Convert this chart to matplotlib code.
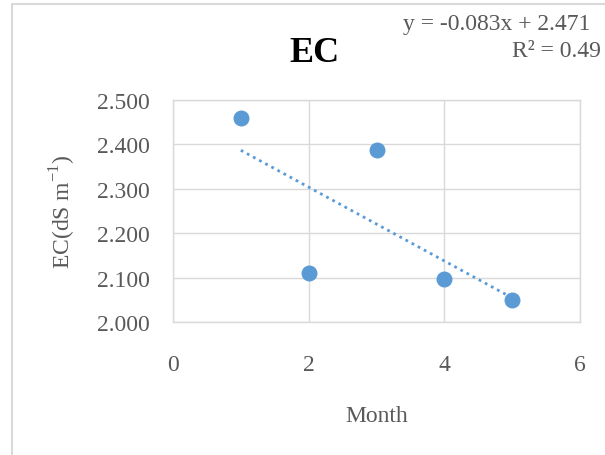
import numpy as np
import matplotlib
matplotlib.use('Agg')
import matplotlib.pyplot as plt
from matplotlib.patches import Rectangle

plt.rcParams['font.family'] = ['Liberation Serif', 'DejaVu Serif']

# data
months = [1, 2, 3, 4, 5]
ec = [2.459, 2.110, 2.387, 2.097, 2.050]
y_ticks = [2.0, 2.1, 2.2, 2.3, 2.4, 2.5]
x_ticks = [0, 2, 4, 6]
eq_line1 = 'y = -0.083x + 2.471'
eq_line2 = 'R² = 0.49'

blue = '#5B9BD5'
grid_c = '#D9D9D9'
txt_c = '#595959'

W, H = 605, 456
fig = plt.figure(figsize=(W / 100, H / 100), dpi=100)
fig.patch.set_facecolor('white')

# chart border (Excel chart area), partly cut off right/bottom
fig.patches.append(Rectangle((12 / W, -0.1), 1.2, 1 - 5 / H + 0.1,
                             transform=fig.transFigure, fill=False,
                             edgecolor=grid_c, lw=1.5))

ax = fig.add_axes([173 / W, 1 - 323 / H, (580 - 173) / W, (323 - 101) / H])

# linear trend from the points
slope, icpt = np.polyfit(months, ec, 1)
xt = np.array([min(months), max(months)])
ax.plot(xt, slope * xt + icpt, color=blue, lw=2.0,
        linestyle=(0, (1, 1.5)), zorder=3)
ax.plot(months, ec, 'o', color=blue, ms=10.5, mec=blue, zorder=4)

ax.set_xlim(0, 6)
ax.set_ylim(2.0, 2.5)
ax.set_xticks(x_ticks)
ax.set_yticks(y_ticks)
ax.set_yticklabels([f'{v:.3f}' for v in y_ticks])
ax.grid(True, color=grid_c, lw=1.0)
ax.set_axisbelow(True)
for s in ax.spines.values():
    s.set_color(grid_c)
    s.set_linewidth(1.0)
ax.tick_params(length=0, labelsize=17, colors=txt_c)
ax.tick_params(axis='x', pad=23)
ax.tick_params(axis='y', pad=16.5)

ax.set_xlabel('Month', fontsize=17, color=txt_c, labelpad=22)
ax.set_ylabel('EC(dS m$^{\\mathregular{-1}}$)', fontsize=17, color=txt_c, labelpad=14)

fig.text(314 / W, 1 - 62 / H, 'EC', fontsize=26, fontweight='bold',
         ha='center', va='baseline', color='black')
fig.text(590 / W, 1 - 30 / H, eq_line1, fontsize=17, color=txt_c,
         ha='right', va='baseline')
fig.text(601 / W, 1 - 57 / H, eq_line2, fontsize=17, color=txt_c,
         ha='right', va='baseline')

plt.savefig('out.png', dpi=100, facecolor='white')
plt.close()
